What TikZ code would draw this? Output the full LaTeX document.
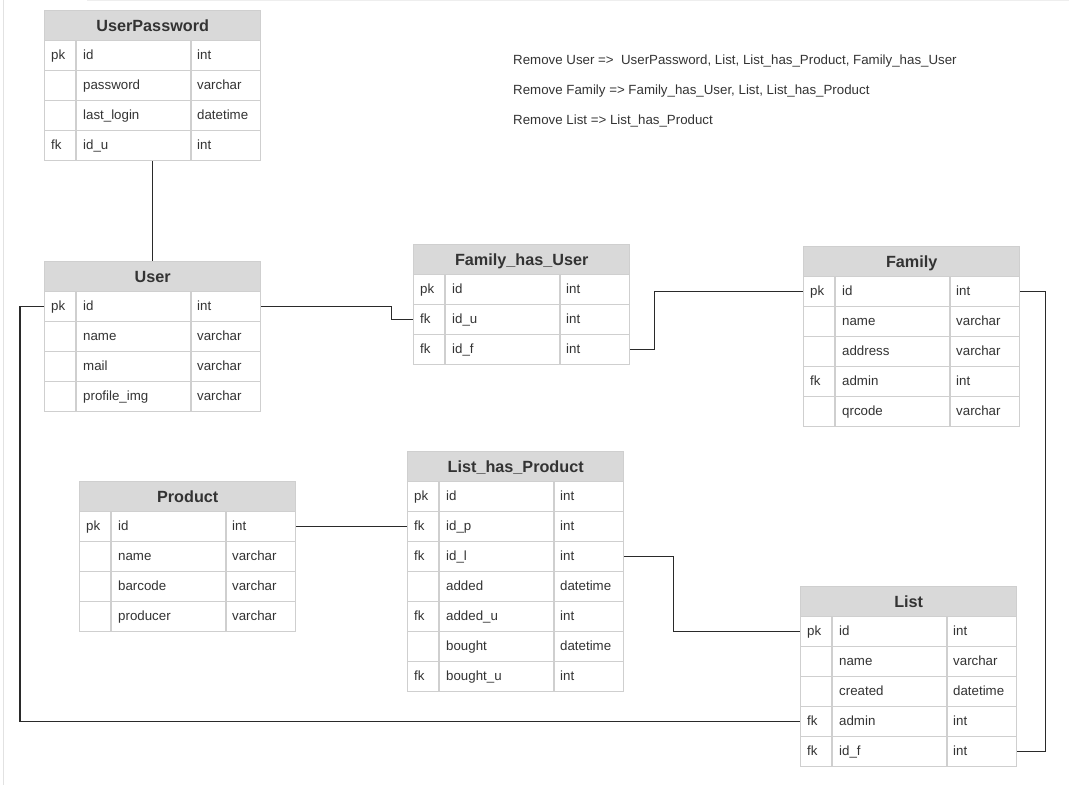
\documentclass[tikz,border=0pt]{standalone}
\usepackage{fontspec}
\setmainfont{Liberation Sans}
\definecolor{txt}{HTML}{333333}
\definecolor{hdrfill}{HTML}{D9D9D9}
\definecolor{brd}{HTML}{CFCFCF}
\definecolor{lnk}{HTML}{2A2A2A}
\definecolor{pageedge}{HTML}{E2E2E2}
\tikzset{
  erhead/.style={draw=brd, line width=1.4pt, fill=hdrfill, minimum width=216pt, minimum height=30pt,
    inner sep=0pt, anchor=north west, font=\fontsize{16.2}{18}\selectfont\bfseries, text=txt,
    text height=11.8pt, text depth=0pt},
  errowbox/.style={draw=brd, line width=1.4pt, fill=white, minimum width=216pt, minimum height=30pt,
    inner sep=0pt, anchor=north west},
  ertext/.style={anchor=west, inner sep=0pt, text height=9.5pt, text depth=2.5pt,
    font=\fontsize{13.3}{15}\selectfont, text=txt},
  ercol/.style={draw=brd, line width=1.4pt},
  conn/.style={draw=lnk, line width=1.1pt},
  note/.style={anchor=west, inner sep=0pt, font=\fontsize{13.3}{15}\selectfont, text=txt}
}
\newcommand{\ertitle}[4]{\node[erhead] (#1) at (#2,#3) {#4};}
\newcommand{\errow}[6]{%
  \node[errowbox] (#1) at (#2,#3) {};
  \draw[ercol] ({#2+32},#3) -- ++(0,30);
  \draw[ercol] ({#2+147},#3) -- ++(0,30);
  \node[ertext] at ({#2+7},{#3+16}) {#4};
  \node[ertext] at ({#2+39},{#3+16}) {#5};
  \node[ertext] at ({#2+153},{#3+16}) {#6};
}
\begin{document}
\begin{tikzpicture}[x=1pt,y=-1pt]
\useasboundingbox (0,0) rectangle (1069,785);
\draw[pageedge, line width=1pt] (3.5,0) -- (3.5,785);
\draw[pageedge!60, line width=1pt] (87,0.5) -- (1069,0.5);

% UserPassword
\ertitle{up}{44}{10}{UserPassword}
\errow{up_id}{44}{40}{pk}{id}{int}
\errow{up_pw}{44}{70}{}{password}{varchar}
\errow{up_ll}{44}{100}{}{last\_login}{datetime}
\errow{up_idu}{44}{130}{fk}{id\_u}{int}

% User
\ertitle{user}{44}{261}{User}
\errow{user_id}{44}{291}{pk}{id}{int}
\errow{user_name}{44}{321}{}{name}{varchar}
\errow{user_mail}{44}{351}{}{mail}{varchar}
\errow{user_img}{44}{381}{}{profile\_img}{varchar}

% Family_has_User
\ertitle{fhu}{413}{244}{Family\_has\_User}
\errow{fhu_id}{413}{274}{pk}{id}{int}
\errow{fhu_idu}{413}{304}{fk}{id\_u}{int}
\errow{fhu_idf}{413}{334}{fk}{id\_f}{int}

% Family
\ertitle{fam}{803}{246}{Family}
\errow{fam_id}{803}{276}{pk}{id}{int}
\errow{fam_name}{803}{306}{}{name}{varchar}
\errow{fam_addr}{803}{336}{}{address}{varchar}
\errow{fam_admin}{803}{366}{fk}{admin}{int}
\errow{fam_qr}{803}{396}{}{qrcode}{varchar}

% Product
\ertitle{prod}{79}{481}{Product}
\errow{prod_id}{79}{511}{pk}{id}{int}
\errow{prod_name}{79}{541}{}{name}{varchar}
\errow{prod_bc}{79}{571}{}{barcode}{varchar}
\errow{prod_pr}{79}{601}{}{producer}{varchar}

% List_has_Product
\ertitle{lhp}{407}{451}{List\_has\_Product}
\errow{lhp_id}{407}{481}{pk}{id}{int}
\errow{lhp_idp}{407}{511}{fk}{id\_p}{int}
\errow{lhp_idl}{407}{541}{fk}{id\_l}{int}
\errow{lhp_added}{407}{571}{}{added}{datetime}
\errow{lhp_addu}{407}{601}{fk}{added\_u}{int}
\errow{lhp_bought}{407}{631}{}{bought}{datetime}
\errow{lhp_bu}{407}{661}{fk}{bought\_u}{int}

% List
\ertitle{list}{800}{586}{List}
\errow{list_id}{800}{616}{pk}{id}{int}
\errow{list_name}{800}{646}{}{name}{varchar}
\errow{list_created}{800}{676}{}{created}{datetime}
\errow{list_admin}{800}{706}{fk}{admin}{int}
\errow{list_idf}{800}{736}{fk}{id\_f}{int}

% Notes
\node[note] (n1) at (513,61) {Remove User =>\ \ UserPassword, List, List\_has\_Product, Family\_has\_User};
\node[note] (n2) at (513,91) {Remove Family => Family\_has\_User, List, List\_has\_Product};
\node[note] (n3) at (513,121) {Remove List => List\_has\_Product};

% Connectors
\draw[conn] (up_idu.south) -- (user.north);
\draw[conn] (user_id.east) -- ++(130,0) |- (fhu_idu.west);
\draw[conn] (fhu_idf.east) -- ++(24,0) |- (fam_id.west);
\draw[conn] (fam_id.east) -- ++(25,0) |- (list_idf.east);
\draw[conn] (prod_id.east) -- (lhp_idp.west);
\draw[conn] (lhp_idl.east) -- ++(49,0) |- (list_id.west);
\draw[conn] (user_id.west) -- ++(-24,0) |- (list_admin.west);
\end{tikzpicture}
\end{document}
